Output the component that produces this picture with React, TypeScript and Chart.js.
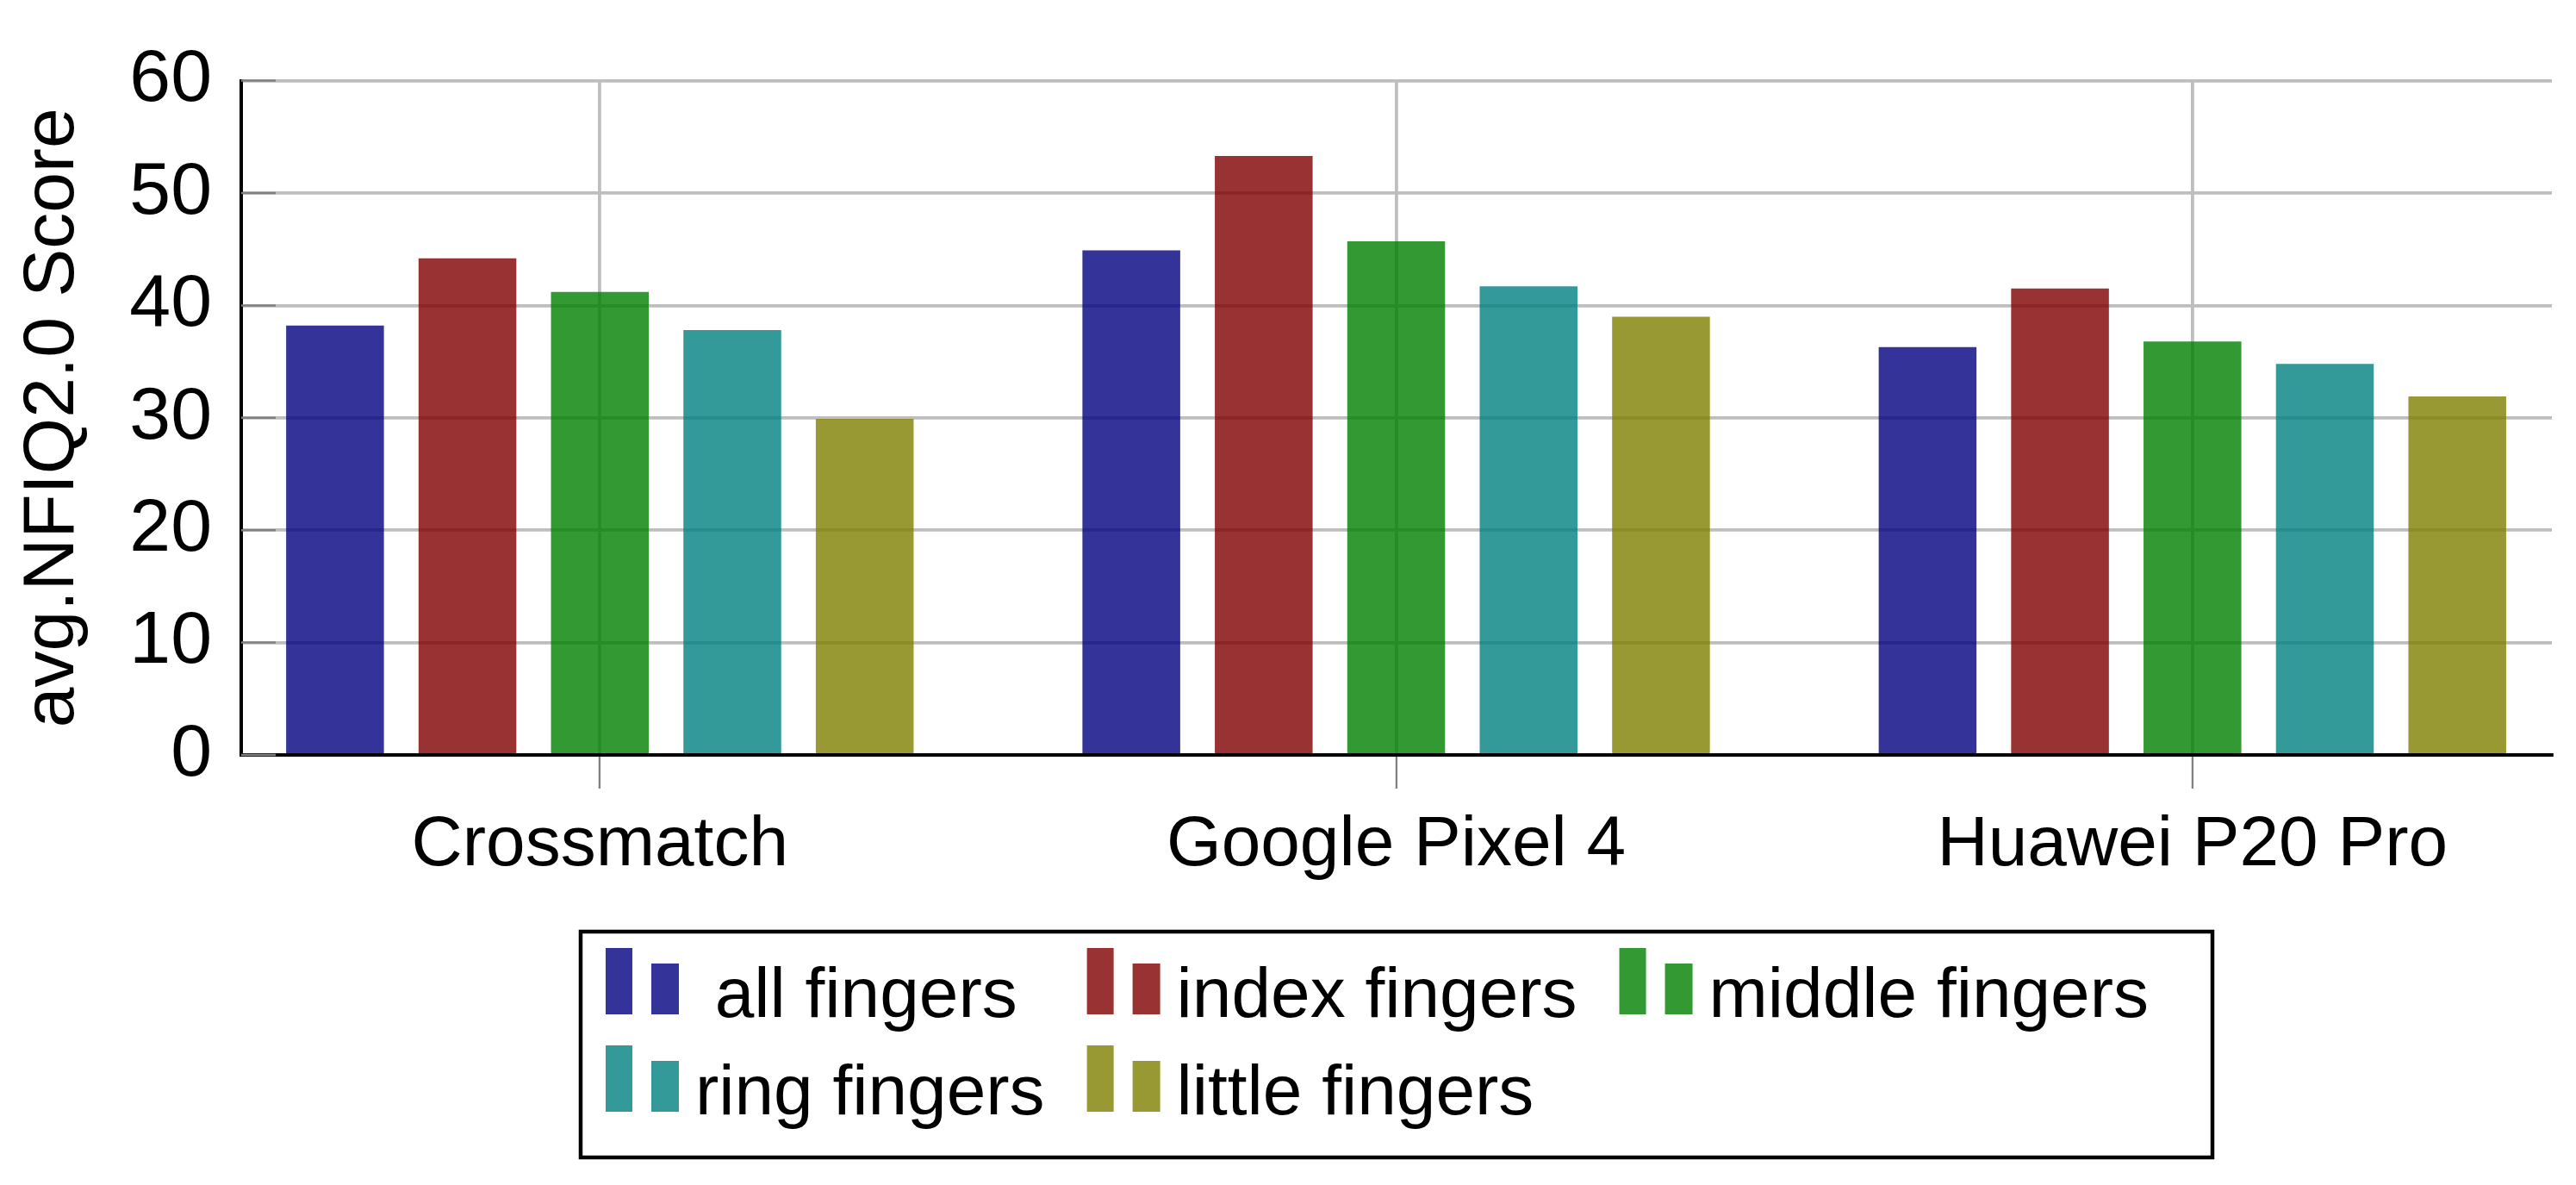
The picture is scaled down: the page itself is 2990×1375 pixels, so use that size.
import React, { useEffect, useRef } from "react";
import { Chart, registerables } from "chart.js";

Chart.register(...registerables);

const categories = ["Crossmatch", "Google Pixel 4", "Huawei P20 Pro"];
const seriesNames = [" all fingers", "index fingers", "middle fingers", "ring fingers", "little fingers"];
const allFingers = [38.2, 44.9, 36.3];
const indexFingers = [44.2, 53.3, 41.5];
const middleFingers = [41.2, 45.7, 36.8];
const ringFingers = [37.8, 41.7, 34.8];
const littleFingers = [29.9, 39.0, 31.9];
const seriesColors = [
  "rgba(0,0,128,0.8)",
  "rgba(128,0,0,0.8)",
  "rgba(0,128,0,0.8)",
  "rgba(0,128,128,0.8)",
  "rgba(128,128,0,0.8)",
];
const yMin = 0;
const yMax = 60;
const yStep = 10;
const yTitle = "avg.NFIQ2.0 Score";

const FONT = "'Liberation Sans', Arial, sans-serif";

const innerTicksPlugin = {
  id: "innerTicks",
  beforeDatasetsDraw(chart: any) {
    const ctx = chart.ctx;
    const ys = chart.scales.y;
    const left = chart.chartArea.left;
    ctx.save();
    ctx.strokeStyle = "#808080";
    ctx.lineWidth = 2.5;
    ys.ticks.forEach((t: any) => {
      const py = ys.getPixelForValue(t.value);
      ctx.beginPath();
      ctx.moveTo(left, py);
      ctx.lineTo(left + 40, py);
      ctx.stroke();
    });
    ctx.restore();
  },
};

const boxLegendPlugin = {
  id: "boxLegend",
  afterDraw(chart: any) {
    const ctx = chart.ctx;
    const ds = chart.data.datasets;
    ctx.save();
    ctx.font = `82px ${FONT}`;
    const cols = 3;
    const iconW = 85;
    const textGap = 19;
    const colSep = 49;
    const padL = 29;
    const padR = 25;
    const rowBase0 = 99;
    const rowH = 113;
    const boxH = 262;
    const colW: number[] = [];
    ds.forEach((d: any, i: number) => {
      const c = i % cols;
      const w = iconW + textGap + ctx.measureText(d.label).width;
      colW[c] = Math.max(colW[c] || 0, w);
    });
    const totalW = padL + colW.reduce((a, b) => a + b, 0) + cols * colSep + padR;
    const cx = (chart.chartArea.left + chart.chartArea.right) / 2;
    const left = cx - totalW / 2;
    const top = chart.chartArea.bottom + 205;
    ctx.lineWidth = 4.5;
    ctx.strokeStyle = "#000";
    ctx.strokeRect(left, top, totalW, boxH);
    ds.forEach((d: any, i: number) => {
      const c = i % cols;
      const r = Math.floor(i / cols);
      let x0 = left + padL;
      for (let k = 0; k < c; k++) x0 += colW[k] + colSep;
      const base = top + rowBase0 + r * rowH;
      const bottom = base - 3;
      ctx.fillStyle = d.backgroundColor;
      ctx.fillRect(x0, bottom - 77, 31, 77);
      ctx.fillRect(x0 + 53, bottom - 59, 32, 59);
      ctx.fillStyle = "#000";
      ctx.textBaseline = "alphabetic";
      ctx.textAlign = "left";
      ctx.fillText(d.label, x0 + iconW + textGap, base);
    });
    ctx.restore();
  },
};

export default function App() {
  const ref = useRef<HTMLCanvasElement | null>(null);

  useEffect(() => {
    if (!ref.current) return;
    const series = [allFingers, indexFingers, middleFingers, ringFingers, littleFingers];
    const chart = new Chart(ref.current, {
      type: "bar",
      data: {
        datasets: series.map((vals, si) => ({
          label: seriesNames[si],
          data: vals.map((v, ci) => ({ x: ci, y: v })),
          backgroundColor: seriesColors[si],
          borderWidth: 0,
          categoryPercentage: 0.8315,
          barPercentage: 0.7385,
        })),
      },
      options: {
        animation: false,
        responsive: false,
        devicePixelRatio: 1,
        layout: { padding: { left: 0, top: 53, right: 20, bottom: 341 } },
        plugins: {
          legend: { display: false },
          tooltip: { enabled: false },
        },
        scales: {
          x: {
            type: "linear",
            min: -0.4504,
            max: 2.4514,
            offset: false,
            afterBuildTicks: (scale: any) => {
              scale.ticks = categories.map((_, i) => ({ value: i }));
            },
            afterFit: (scale: any) => {
              scale.height = 150;
            },
            ticks: {
              callback: (v: any) => categories[v as number] ?? "",
              font: { family: FONT, size: 82 },
              color: "#000",
              padding: 17,
              maxRotation: 0,
              autoSkip: false,
            },
            grid: {
              offset: false,
              color: "#bebebe",
              lineWidth: 3.8,
              tickColor: "#808080",
              tickWidth: 2.3,
              tickLength: 39,
              drawTicks: true,
            },
            border: { color: "#000", width: 4 },
          },
          y: {
            min: yMin,
            max: yMax,
            afterFit: (scale: any) => {
              scale.width = 272;
            },
            ticks: {
              stepSize: yStep,
              font: { family: FONT, size: 86 },
              color: "#000",
              padding: 34,
            },
            grid: {
              color: "#bebebe",
              lineWidth: 3.8,
              drawTicks: false,
            },
            border: { color: "#000", width: 4 },
            title: {
              display: true,
              text: yTitle,
              font: { family: FONT, size: 84 },
              color: "#000",
              padding: { top: 3, bottom: 0 },
            },
          },
        },
      },
      plugins: [innerTicksPlugin, boxLegendPlugin],
    } as any);
    return () => chart.destroy();
  }, []);

  return (
    <div style={{ width: 2974, height: 1359 }}>
      <canvas
        ref={ref}
        width={2974}
        height={1359}
        style={{ display: "block", width: 2974, height: 1359 }}
      />
    </div>
  );
}
